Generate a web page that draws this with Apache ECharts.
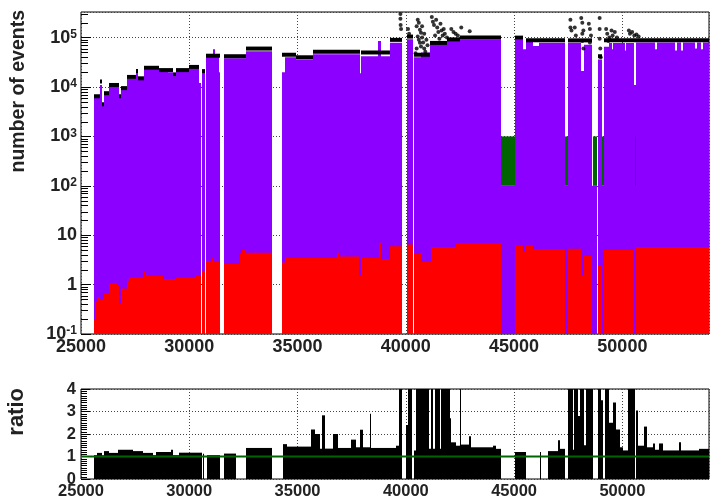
<!DOCTYPE html>
<html>
<head>
<meta charset="utf-8">
<script src="https://cdn.jsdelivr.net/npm/echarts@6.0.0/dist/echarts.min.js"></script>
<style>
  html, body { margin: 0; padding: 0; background: #fff; }
  #chart { width: 710px; height: 500px; }
</style>
</head>
<body>
<div id="chart"></div>
<script>
const X_MIN = 25000, X_MAX = 54000;
const Y_MIN = 0.1, Y_MAX = 3.3e5;
const xTickStep = 5000;
const logDecades = [-1, 0, 1, 2, 3, 4, 5];
const logMinorSteps = [2, 3, 4, 5, 6, 7, 8, 9];

// stacked MC total (violet): [from, to, events]
const mcTotal = [
  [25600, 25880, 6000], [25880, 25960, 11000], [25960, 26060, 4200], [26060, 26300, 7300],
  [26300, 26750, 10500], [26750, 26830, 6000], [26830, 27110, 9500], [27110, 27550, 14500],
  [27550, 27650, 21000], [27650, 27900, 14000], [27900, 28600, 23000], [28600, 29000, 21500],
  [29000, 29250, 20000], [29250, 29400, 16500], [29400, 30000, 20500], [30000, 30450, 24000],
  [30450, 30560, 12000], [30610, 30705, 20000], [30780, 31100, 42000], [31100, 31180, 58000],
  [31180, 31350, 42000], [31350, 31410, 20000], [31600, 32600, 38000], [32600, 33800, 53000],
  [34290, 34400, 20000], [34400, 34950, 40000], [34950, 35700, 36000], [35700, 37870, 46000],
  [37870, 37950, 19000], [37950, 38700, 42000], [38700, 38840, 85000], [38840, 39250, 42000],
  [39250, 39840, 79000], [40050, 40310, 93000], [40400, 40700, 40000], [40700, 41100, 50000],
  [41100, 41880, 73000], [41880, 42480, 86000], [42480, 44410, 92000], [44410, 45020, 100],
  [45020, 45390, 93000], [45390, 45530, 58000], [45530, 45850, 83000], [45850, 46170, 68000],
  [46170, 47330, 79000], [47360, 47510, 100], [47510, 48100, 79000], [48100, 48250, 21000],
  [48250, 48600, 72000], [48600, 48830, 100], [48860, 49060, 36000], [49060, 49170, 100],
  [49170, 49400, 65000], [49400, 49500, 78000], [49500, 49580, 58000], [49580, 50100, 78000],
  [50100, 50180, 55000], [50180, 50540, 78000], [50540, 50620, 11000], [50620, 51500, 80000],
  [51500, 51600, 58000], [51600, 52440, 80000], [52440, 52520, 55000], [52520, 52730, 80000],
  [52730, 52810, 55000], [52810, 53360, 80000], [53360, 53440, 60000], [53440, 53640, 80000],
  [53640, 53720, 58000], [53720, 54000, 80000]
];

// green component: [from, to, low, high]
const mcGreen = [
  [44410, 45020, 100, 1000], [47360, 47510, 100, 1000], [48630, 48830, 100, 1000],
  [49060, 49170, 100, 1000], [50560, 50590, 100, 1000]
];

// red component: [from, to, events]
const mcRed = [
  [25600, 25660, 0.2], [25660, 25720, 0.45], [25720, 25880, 0.56], [25880, 26060, 0.5],
  [26060, 26300, 0.65], [26300, 26650, 1.05], [26650, 26750, 0.95], [26750, 26830, 0.42],
  [26830, 27110, 0.83], [27110, 27250, 1.2], [27250, 27900, 1.4], [27900, 27980, 1.8],
  [27980, 28800, 1.5], [28800, 29400, 1.3], [29400, 30300, 1.4], [30300, 30560, 1.5],
  [30610, 30705, 1.9], [30780, 31050, 3.0], [31050, 31150, 3.4], [31150, 31410, 2.9],
  [31600, 32330, 2.6], [32330, 32450, 4.3], [32450, 32600, 5.0], [32600, 33800, 4.4],
  [34290, 34400, 2.8], [34400, 36800, 3.5], [36800, 36900, 4.4], [36900, 37860, 3.7],
  [37860, 37950, 1.5], [37950, 38780, 3.5], [38780, 38860, 7.0], [38860, 39250, 3.3],
  [39250, 39840, 6.0], [40050, 40310, 6.5], [40400, 40700, 4.2], [40700, 41150, 2.9],
  [41150, 42330, 5.8], [42330, 44410, 6.8], [45020, 45400, 6.2], [45400, 45550, 4.6],
  [45550, 45850, 6.2], [45850, 47330, 5.2], [47510, 48100, 5.3], [48100, 48250, 1.5],
  [48250, 48600, 3.8], [48870, 49050, 2.4], [49170, 50540, 5.0], [50620, 54000, 5.8]
];

// observed data, main band: [from, to, events]
const dataBand = [
  [25600, 25880, 6500], [25880, 25960, 13000], [25960, 26060, 4500], [26060, 26300, 7500],
  [26300, 26750, 11000], [26750, 26830, 6500], [26830, 27110, 9500], [27110, 27550, 16000],
  [27550, 27650, 21000], [27650, 27900, 15000], [27900, 28600, 24500], [28600, 29250, 22000],
  [29250, 29400, 18000], [29400, 30000, 22000], [30000, 30450, 25500], [30610, 30705, 21000],
  [30780, 31410, 43000], [31600, 32600, 42000], [32600, 33800, 60000], [34290, 34950, 45000],
  [34950, 35700, 40000], [35700, 37870, 52000], [37950, 39250, 50000], [39250, 39840, 90000],
  [40050, 40310, 105000], [40400, 41100, 45000], [41100, 41880, 78000], [41880, 42480, 92000],
  [42480, 44410, 100000], [45020, 45390, 100000], [45530, 47330, 88000], [47510, 48600, 88000],
  [48860, 49060, 42000], [49170, 54000, 88000]
];

// observed data, scattered points: [x, events]
const dataOutliers = [
  [39750, 3.0e5], [39750, 2.4e5], [39760, 1.8e5], [39780, 1.5e5], [40100, 1.5e5], [40150, 1.2e5],
  [40500, 1.7e5], [40550, 2.3e5], [40600, 2.0e5], [40650, 1.45e5], [40700, 1.26e5], [40550, 1.05e5],
  [40600, 9e4], [40650, 7.9e4], [40700, 6.6e4], [40750, 1.0e5], [40800, 8e4], [40850, 6e4],
  [40900, 5.2e4], [40500, 6e4], [40750, 1.7e5], [40850, 1.2e5], [40950, 9e4], [41000, 7e4],
  [40450, 4.8e4], [41200, 2.6e5], [41250, 2.1e5], [41300, 1.8e5], [41400, 2.3e5], [41450, 1.6e5],
  [41500, 1.3e5], [41600, 1.9e5], [41650, 1.4e5], [41700, 1.1e5], [41750, 1.5e5], [41800, 1.2e5],
  [41350, 1.1e5], [41550, 9.5e4], [41900, 1.0e5], [42100, 1.5e5], [42200, 1.3e5], [42300, 1.2e5],
  [42400, 1.1e5], [42560, 1.6e5], [42950, 1.35e5], [47600, 2.3e5], [47600, 1.6e5], [47650, 1.4e5],
  [47800, 1.6e5], [47850, 1.1e5], [48100, 2.5e5], [48150, 2.0e5], [48200, 1.4e5], [48150, 1.2e5],
  [48150, 8.5e4], [48200, 6e4], [48450, 1.9e5], [48500, 1.5e5], [48550, 1.1e5], [48500, 8e4],
  [48950, 2.5e5], [48950, 1.5e5], [48950, 9.5e4], [48980, 6e4], [49000, 4e4], [49250, 1.5e5],
  [49300, 1.2e5], [49400, 1.0e5], [49500, 1.4e5], [49550, 1.1e5], [49650, 1.3e5], [49750, 1.0e5],
  [49350, 8.5e4], [50300, 1.4e5], [50350, 1.2e5], [50450, 1.3e5], [50550, 1.1e5], [50650, 1.15e5],
  [50750, 1.05e5]
];

// data / MC ratio: [from, to, ratio]
const ratioBins = [
  [25600, 25720, 1.06], [25720, 25960, 1.16], [25960, 26060, 1.06], [26060, 26300, 1.24],
  [26300, 26690, 1.16], [26690, 27380, 1.3], [27380, 27850, 1.24], [27850, 28310, 1.16],
  [28310, 28460, 1.06], [28460, 29170, 1.2], [29170, 29250, 1.3], [29250, 29530, 1.06],
  [29530, 30570, 1.17], [30630, 30700, 1.12], [30800, 31410, 1.06], [31600, 32150, 1.13],
  [32600, 33800, 1.38], [34330, 34490, 1.55], [34490, 35640, 1.44], [35640, 35800, 2.2],
  [35800, 36030, 2.0], [36030, 36150, 1.35], [36150, 36260, 2.83], [36260, 36640, 1.35],
  [36640, 36870, 2.0], [36870, 37490, 1.38], [37490, 37720, 1.75], [37720, 37870, 1.41],
  [37870, 38020, 2.19], [38020, 38330, 1.41], [38330, 38410, 2.9], [38410, 39560, 1.38],
  [39560, 39680, 1.48], [39680, 39840, 4.5], [40020, 40100, 2.4], [40100, 40300, 4.5],
  [40400, 40480, 1.27], [40480, 41070, 4.5], [41070, 41180, 1.34], [41180, 41250, 4.5],
  [41250, 41330, 1.34], [41330, 41560, 4.5], [41560, 41640, 1.34], [41640, 42020, 4.5],
  [42020, 42100, 2.7], [42100, 42330, 1.63], [42330, 42480, 1.48], [42480, 42560, 4.5],
  [42560, 42910, 1.53], [42910, 43020, 1.9], [43020, 44020, 1.41], [44020, 44180, 1.48],
  [44180, 44410, 1.34], [45020, 45560, 1.2], [46180, 46260, 1.2], [46560, 47020, 1.24],
  [47020, 47130, 1.72], [47130, 47330, 1.34], [47510, 47700, 4.5], [47700, 47780, 1.3],
  [47780, 47950, 4.5], [47950, 48030, 2.8], [48030, 48230, 4.5], [48230, 48330, 1.5],
  [48330, 48630, 4.5], [48870, 49020, 4.5], [49020, 49100, 3.5], [49200, 49400, 4.5],
  [49400, 49550, 2.5], [49550, 49710, 3.4], [49710, 49870, 2.2], [49870, 50020, 1.41],
  [50020, 50250, 1.27], [50250, 50560, 4.5], [50620, 50720, 3.04], [50720, 51020, 1.48],
  [51020, 51130, 2.33], [51130, 51430, 1.41], [51430, 51520, 1.58], [51520, 51710, 1.3],
  [51710, 51870, 1.58], [51870, 52630, 1.27], [52630, 52720, 1.63], [52720, 53550, 1.27],
  [53550, 54000, 1.34]
];
const unityLine = [[X_MIN, 1], [X_MAX, 1]];

const FONT = '"Liberation Sans", Arial, sans-serif';
const TXT = '#222';

// snap bin edges to whole pixels so neighbouring bins meet without hairlines
function renderFill(params, api) {
  const a = api.coord([api.value(0), api.value(3)]);
  const b = api.coord([api.value(1), api.value(2)]);
  const x0 = Math.round(a[0]), x1 = Math.round(b[0]);
  return {
    type: 'rect',
    shape: { x: x0, y: a[1], width: Math.max(1, x1 - x0), height: b[1] - a[1] },
    style: { fill: api.visual('color') }
  };
}

function renderBand(params, api) {
  const a = api.coord([api.value(0), api.value(2)]);
  const b = api.coord([api.value(1), api.value(2)]);
  const x0 = Math.round(a[0]), x1 = Math.round(b[0]);
  return {
    type: 'rect',
    shape: { x: x0, y: a[1] - 2, width: x1 - x0, height: 4 },
    style: { fill: '#000' }
  };
}

function renderLogMinor(params, api) {
  const d = api.value(0);
  return {
    type: 'group',
    children: logMinorSteps.map(m => {
      const p = api.coord([X_MIN, m * Math.pow(10, d)]);
      const y = Math.round(p[1]) + 0.5;
      return { type: 'line', shape: { x1: p[0], y1: y, x2: p[0] + 7, y2: y }, style: { stroke: '#000', lineWidth: 1 } };
    })
  };
}

const labelStyle = { fontFamily: FONT, fontWeight: 'bold', fontSize: 18, color: TXT };
const smallLabel = { fontFamily: FONT, fontWeight: 'bold', fontSize: 16.5, color: TXT };
const dotted = { show: true, lineStyle: { color: '#444', type: [1, 2], width: 1 } };

const chart = echarts.init(document.getElementById('chart'), null, { renderer: 'canvas' });
chart.setOption({
  animation: false,
  backgroundColor: '#fff',
  grid: [
    { left: 81, right: 1, top: 12, height: 322, show: true, borderColor: '#000', borderWidth: 1, backgroundColor: 'transparent' },
    { left: 81, right: 1, top: 389, height: 94, show: true, borderColor: '#000', borderWidth: 1, backgroundColor: 'transparent' }
  ],
  xAxis: [
    {
      type: 'value', gridIndex: 0, min: X_MIN, max: X_MAX, interval: xTickStep,
      axisLine: { show: false }, axisTick: { show: false },
      axisLabel: Object.assign({ margin: 4, showMaxLabel: false, formatter: v => String(v) }, labelStyle),
      splitLine: dotted
    },
    {
      type: 'value', gridIndex: 1, min: X_MIN, max: X_MAX, interval: xTickStep,
      axisLine: { show: false }, axisTick: { show: false },
      axisLabel: Object.assign({ margin: 4, showMaxLabel: false, formatter: v => String(v) }, smallLabel),
      splitLine: dotted
    }
  ],
  yAxis: [
    {
      type: 'log', logBase: 10, gridIndex: 0, min: Y_MIN, max: Y_MAX,
      axisLine: { show: false },
      axisTick: { show: true, inside: true, length: 10, lineStyle: { color: '#000' } },
      splitLine: dotted,
      axisLabel: {
        margin: 4,
        showMaxLabel: false,
        formatter: v => {
          const e = Math.round(Math.log10(v));
          if (e === 0) return '{b|1}';
          if (e === 1) return '{b|10}';
          return '{b|10}{s|' + e + '}';
        },
        rich: {
          b: { fontFamily: FONT, fontWeight: 'bold', fontSize: 18, color: TXT, lineHeight: 18 },
          s: { fontFamily: FONT, fontWeight: 'bold', fontSize: 12, color: TXT, lineHeight: 12, verticalAlign: 'top' }
        }
      }
    },
    {
      type: 'value', gridIndex: 1, min: 0, max: 4, interval: 1,
      axisLine: { show: false },
      axisTick: { show: true, inside: true, length: 9, lineStyle: { color: '#000' } },
      minorTick: { show: true, splitNumber: 10, length: 6, lineStyle: { color: '#000' } },
      splitLine: dotted,
      axisLabel: Object.assign({ margin: 5 }, smallLabel)
    }
  ],
  graphic: [
    { type: 'text', x: 19, y: 10, rotation: Math.PI / 2,
      style: { text: 'number of events', font: 'bold 19.5px ' + FONT, fill: TXT, textAlign: 'right', textVerticalAlign: 'middle' } },
    { type: 'text', x: 17, y: 388, rotation: Math.PI / 2,
      style: { text: 'ratio', font: 'bold 22px ' + FONT, fill: TXT, textAlign: 'right', textVerticalAlign: 'middle' } }
  ],
  series: [
    { type: 'custom', name: 'total', xAxisIndex: 0, yAxisIndex: 0, clip: true, itemStyle: { color: '#8c00ff' },
      encode: { x: [0, 1], y: [2, 3] }, renderItem: renderFill,
      data: mcTotal.map(s => [s[0], s[1], Y_MIN, s[2]]) },
    { type: 'custom', name: 'green', xAxisIndex: 0, yAxisIndex: 0, clip: true, itemStyle: { color: '#006400' },
      encode: { x: [0, 1], y: [2, 3] }, renderItem: renderFill, data: mcGreen },
    { type: 'custom', name: 'red', xAxisIndex: 0, yAxisIndex: 0, clip: true, itemStyle: { color: '#ff0000' },
      encode: { x: [0, 1], y: [2, 3] }, renderItem: renderFill,
      data: mcRed.map(s => [s[0], s[1], Y_MIN, s[2]]) },
    { type: 'custom', name: 'data', xAxisIndex: 0, yAxisIndex: 0, clip: true,
      encode: { x: [0, 1], y: [2] }, renderItem: renderBand, data: dataBand },
    { type: 'scatter', name: 'data pts', xAxisIndex: 0, yAxisIndex: 0, symbolSize: 4,
      itemStyle: { color: '#000' }, data: dataOutliers },
    { type: 'custom', name: 'minor', xAxisIndex: 0, yAxisIndex: 0, clip: true, silent: true,
      encode: { y: [] }, renderItem: renderLogMinor, data: logDecades.map(d => [d]) },
    { type: 'custom', name: 'ratio', xAxisIndex: 1, yAxisIndex: 1, clip: true, itemStyle: { color: '#000' },
      encode: { x: [0, 1], y: [2, 3] }, renderItem: renderFill,
      data: ratioBins.map(s => [s[0], s[1], 0, s[2]]) },
    { type: 'line', name: 'unity', xAxisIndex: 1, yAxisIndex: 1, symbol: 'none',
      lineStyle: { color: '#006400', width: 2 }, data: unityLine }
  ]
});
</script>
</body>
</html>
